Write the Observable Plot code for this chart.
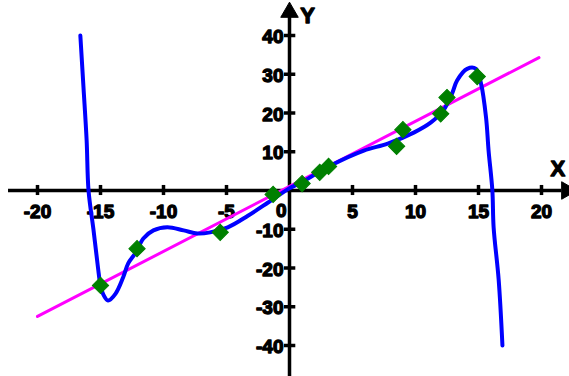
<!DOCTYPE html>
<html>
<head>
<meta charset="utf-8">
<script src="https://cdn.jsdelivr.net/npm/d3@7"></script>
<script src="https://cdn.jsdelivr.net/npm/@observablehq/plot@0.6"></script>
<style>
  html, body { margin: 0; padding: 0; background: #fff; }
  #chart svg { display: block; }
</style>
</head>
<body>
<div id="chart"></div>
<script>
// Data points (green diamonds)
const pointX = [-15.0, -12.1, -5.5, -1.3, 1.0, 2.4, 3.1, 8.5, 9.0, 12.0, 12.5, 14.9];
const pointY = [-24.5, -15.0, -10.8, -1.0, 1.8, 4.7, 6.2, 11.4, 15.7, 19.8, 24.0, 29.4];

// Fitted polynomial curve (blue)
const curveX = [-16.6, -16.35, -16.1, -15.95, -15.55, -15.2, -15.0, -14.75, -14.4, -13.8, -13.2, -12.8, -12.2, -11.6, -10.8, -9.7, -8.4, -7.3, -6.3, -4.9, -3.3, -1.7, 0.0, 0.9, 3.3, 5.9, 7.8, 9.9, 11.2, 12.2, 12.9, 13.3, 14.1, 14.8, 15.2, 15.6, 15.8, 16.1, 16.2, 16.6, 16.9];
const curveY = [40, 26.6, 12.9, 0, -10.3, -19.9, -24.5, -27.0, -28.4, -26.6, -22.4, -18.8, -16.0, -12.4, -10.3, -9.5, -10.3, -11.1, -10.8, -9.5, -6.5, -3.1, 0.6, 2.0, 6.5, 10.3, 12.1, 15.0, 17.5, 20.6, 25.0, 28.4, 31.4, 31.4, 27.6, 18.8, 10.3, 0, -9.5, -23, -40];

// Linear fit (magenta)
const lineX = [-20, 19.8];
const lineY = [-32.5, 34.3];

// Tick labels
const xTicks = [-20, -15, -10, -5, 5, 10, 15, 20];
const yTicks = [40, 30, 20, 10, -10, -20, -30, -40];
const axisExtentX = [-22.3, 21.6];
const axisExtentY = [-48, 46];

const points = pointX.map((x, i) => ({x, y: pointY[i]}));
const curve = curveX.map((x, i) => ({x, y: curveY[i]}));
const line = lineX.map((x, i) => ({x, y: lineY[i]}));

const font = "Liberation Sans, Arial, sans-serif";
const txt = {fontSize: 19, fontWeight: "bold", fill: "black", stroke: "black", strokeWidth: 1.3};

const chart = Plot.plot({
  width: 569,
  height: 376,
  marginLeft: 37,
  marginRight: 28,
  marginTop: 35,
  marginBottom: 31,
  x: {domain: [-20, 20], axis: null},
  y: {domain: [-40, 40], axis: null},
  style: {fontFamily: font, background: "white"},
  marks: [
    // tick labels
    Plot.text(xTicks, {x: d => d, y: 0, text: d => String(d), dy: 21, textAnchor: "middle", ...txt}),
    Plot.text([0], {x: 0, y: 0, text: d => "0", dy: 20, dx: -3, textAnchor: "end", ...txt}),
    Plot.text(yTicks, {x: 0, y: d => d, text: d => String(d), dx: -6, dy: 1.5, textAnchor: "end", ...txt}),
    // axes
    Plot.ruleY([0], {x1: axisExtentX[0], x2: axisExtentX[1], stroke: "black", strokeWidth: 3.5}),
    Plot.ruleX([0], {y1: axisExtentY[0], y2: axisExtentY[1], stroke: "black", strokeWidth: 3.5}),
    Plot.ruleX(xTicks, {x: d => d, y1: -1.3, y2: 1.3, stroke: "black", strokeWidth: 3.5}),
    Plot.ruleY(yTicks, {y: d => d, x1: -0.4, x2: 0.5, stroke: "black", strokeWidth: 3.5}),
    Plot.dot([{x: 0, y: 46}], {x: "x", y: "y", symbol: "triangle", r: 6.5, fill: "black", stroke: "black", strokeWidth: 1}),
    Plot.dot([{x: 22, y: 0}], {x: "x", y: "y", symbol: "triangle", r: 6.5, rotate: 90, fill: "black", stroke: "black", strokeWidth: 1}),
    Plot.text(["Y"], {x: 0, y: 45, text: d => d, dx: 18, ...txt, fontSize: 22}),
    Plot.text(["X"], {x: 21.3, y: 5.5, text: d => d, ...txt, fontSize: 22}),
    // fits
    Plot.line(line, {x: "x", y: "y", stroke: "#ff00ff", strokeWidth: 3}),
    Plot.line(curve, {x: "x", y: "y", stroke: "#0000ff", strokeWidth: 4, curve: "catmull-rom"}),
    // data points
    Plot.dot(points, {x: "x", y: "y", symbol: "square", rotate: 45, r: 6.5, fill: "#008000", stroke: "#008000", strokeWidth: 1})
  ]
});
document.getElementById("chart").appendChild(chart);
</script>
</body>
</html>
